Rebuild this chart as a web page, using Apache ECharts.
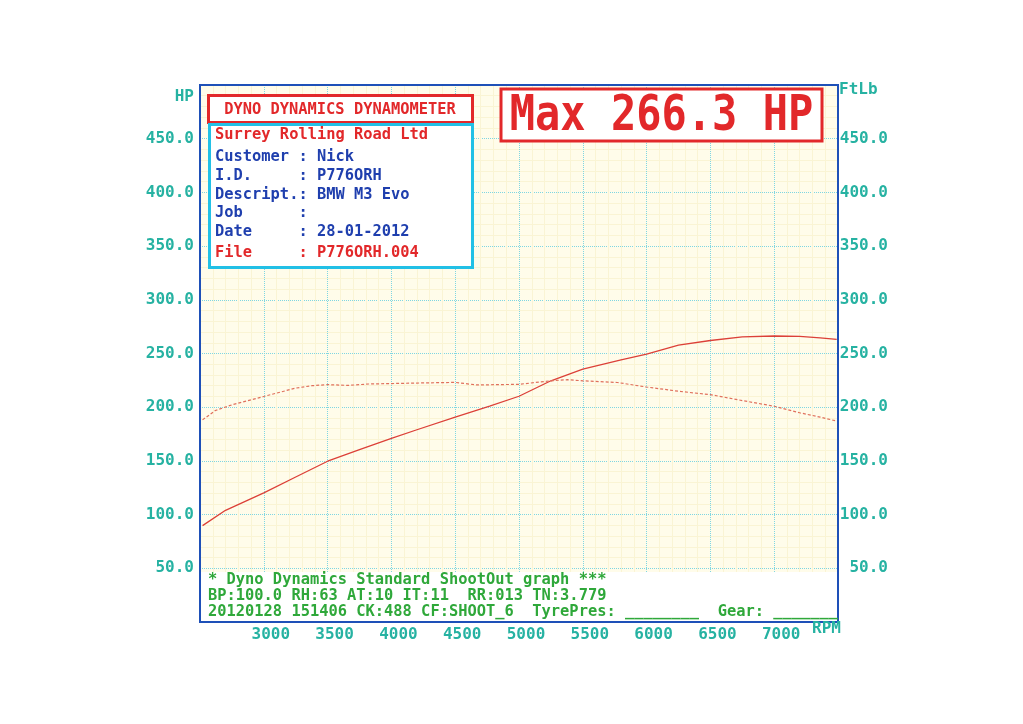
<!DOCTYPE html>
<html><head><meta charset="utf-8">
<script src="https://cdn.jsdelivr.net/npm/echarts@6/dist/echarts.min.js"></script>
<style>html,body{margin:0;padding:0;background:#fff}#c{width:1023px;height:724px}</style>
</head><body><div id="c"></div>
<script>
// ---- data read from the dyno sheet ----
const rpmHP = [2520, 2700, 3000, 3250, 3500, 3750, 4000, 4200, 4500, 4770, 5000, 5250, 5500, 5800, 6000, 6250, 6500, 6750, 7000, 7200, 7360, 7490];
const hpValues = [89.7, 104.0, 120.2, 135.0, 149.7, 160.5, 171.0, 179.0, 190.7, 200.9, 210.2, 224.6, 235.5, 244.0, 249.5, 257.8, 262.1, 265.5, 266.3, 266.0, 264.5, 263.2];
const rpmTq = [2520, 2620, 2750, 3000, 3250, 3375, 3500, 3660, 3820, 4000, 4200, 4500, 4670, 5000, 5250, 5380, 5500, 5770, 6000, 6260, 6500, 6750, 7000, 7200, 7360, 7490];
const tqValues = [188.2, 196.9, 202.2, 210.0, 217.8, 220.0, 221.0, 220.3, 221.6, 222.0, 222.5, 223.1, 220.7, 221.3, 224.6, 225.6, 224.6, 223.0, 218.8, 214.7, 211.7, 206.2, 200.9, 194.8, 190.8, 187.1];
const xTickLabels = ['3000', '3500', '4000', '4500', '5000', '5500', '6000', '6500', '7000'];
const yTickLabels = ['50.0', '100.0', '150.0', '200.0', '250.0', '300.0', '350.0', '400.0', '450.0'];
const maxText = 'Max 266.3 HP';
const headerText = 'DYNO DYNAMICS DYNAMOMETER';
const companyText = 'Surrey Rolling Road Ltd';
const infoLabels = ['Customer', 'I.D.', 'Descript.', 'Job', 'Date', 'File'];
const infoValues = ['Nick', 'P776ORH', 'BMW M3 Evo', '', '28-01-2012', 'P776ORH.004'];
const footerLines = [
  '* Dyno Dynamics Standard ShootOut graph ***',
  'BP:100.0 RH:63 AT:10 IT:11  RR:013 TN:3.779',
  '20120128 151406 CK:488 CF:SHOOT_6  TyrePres: ________  Gear: _______'
];

const MONO = '"DejaVu Sans Mono", "Liberation Mono", monospace';
const TEAL = '#26b2a2';
const RED = '#e2282a';
const BLUE = '#1f3fae';
const GREEN = '#2fa83a';

const chart = echarts.init(document.getElementById('c'), null, {renderer: 'canvas'});

const infoY = [157, 176, 194.5, 213, 232, 253];
const infoGraphics = infoLabels.map((l, i) => ({
  type: 'text', x: 215, y: infoY[i], z: 20,
  style: {
    text: (l.length < 9 ? l.padEnd(9, ' ') : l) + ': ' + infoValues[i],
    font: 'bold 15.4px ' + MONO,
    fill: (l === 'File') ? RED : BLUE,
    textVerticalAlign: 'middle', textAlign: 'left'
  }
}));
const footerY = [580, 596, 612];
const footerGraphics = footerLines.map((t, i) => ({
  type: 'text', x: 208, y: footerY[i], z: 20,
  style: {text: t, font: 'bold 15.4px ' + MONO, fill: GREEN, textVerticalAlign: 'middle', textAlign: 'left'}
}));

const option = {
  backgroundColor: '#ffffff',
  animation: false,
  grid: {left: 200, top: 85, width: 638, height: 537, show: true,
         backgroundColor: '#fffcea', borderWidth: 0},
  xAxis: {
    type: 'value', min: 2500, max: 7500, interval: 500,
    axisLine: {show: false}, axisTick: {show: false},
    axisLabel: {
      color: TEAL, fontFamily: MONO, fontWeight: 'bold', fontSize: 16, margin: 5,
      padding: [0, 0, 0, 14],
      formatter: v => { const s = String(v); return xTickLabels.includes(s) ? s : ''; }
    },
    splitLine: {show: true, lineStyle: {color: '#7fd6e2', type: 'dotted', width: 1}},
    minorTick: {show: false, splitNumber: 5},
    minorSplitLine: {show: true, lineStyle: {color: '#faf4d4', width: 1}}
  },
  yAxis: [
    {
      type: 'value', min: 0, max: 500, interval: 50, position: 'left',
      axisLine: {show: false}, axisTick: {show: false},
      axisLabel: {
        color: TEAL, fontFamily: MONO, fontWeight: 'bold', fontSize: 16, margin: 6,
        formatter: v => { const s = v.toFixed(1); return yTickLabels.includes(s) ? s : ''; }
      },
      splitLine: {show: true, lineStyle: {color: '#7fd6e2', type: 'dotted', width: 1}},
      minorTick: {show: false, splitNumber: 5},
      minorSplitLine: {show: true, lineStyle: {color: '#faf4d4', width: 1}}
    },
    {
      type: 'value', min: 0, max: 500, interval: 50, position: 'right',
      axisLine: {show: false}, axisTick: {show: false},
      axisLabel: {
        color: TEAL, fontFamily: MONO, fontWeight: 'bold', fontSize: 16, margin: 50, align: 'right',
        formatter: v => { const s = v.toFixed(1); return yTickLabels.includes(s) ? s : ''; }
      },
      splitLine: {show: false}
    }
  ],
  series: [
    {
      name: 'HP', type: 'line', yAxisIndex: 0, showSymbol: false, smooth: false,
      data: rpmHP.map((r, i) => [r, hpValues[i]]),
      lineStyle: {color: '#dc4038', width: 1.3}, z: 5
    },
    {
      name: 'FtLb', type: 'line', yAxisIndex: 1, showSymbol: false, smooth: false,
      data: rpmTq.map((r, i) => [r, tqValues[i]]),
      lineStyle: {color: '#e0705c', width: 1.2, type: [3, 2]}, z: 5
    }
  ],
  graphic: [
    // bottom white caption strip inside the plot
    {type: 'rect', shape: {x: 201, y: 572, width: 636, height: 49}, style: {fill: '#ffffff'}, z: 10},
    ...footerGraphics,
    // plot frame
    {type: 'rect', shape: {x: 200, y: 85, width: 638, height: 537}, style: {fill: 'none', stroke: '#1e50b8', lineWidth: 2}, z: 15},
    // header & info box
    {type: 'rect', shape: {x: 208.5, y: 95.5, width: 264, height: 27}, style: {fill: '#ffffff', stroke: RED, lineWidth: 3}, z: 12},
    {type: 'text', x: 340, y: 109.5, z: 20, style: {text: headerText, font: 'bold 15.4px ' + MONO, fill: RED, textAlign: 'center', textVerticalAlign: 'middle'}},
    {type: 'rect', shape: {x: 209.5, y: 124.5, width: 263, height: 143}, style: {fill: '#ffffff', stroke: '#22c0e6', lineWidth: 3}, z: 12},
    {type: 'text', x: 215, y: 135, z: 20, style: {text: companyText, font: 'bold 15.4px ' + MONO, fill: RED, textAlign: 'left', textVerticalAlign: 'middle'}},
    ...infoGraphics,
    // max box
    {type: 'rect', shape: {x: 501, y: 89, width: 321, height: 52}, style: {fill: '#ffffff', stroke: RED, lineWidth: 3}, z: 12},
    {type: 'text', x: 661.5, y: 117, scaleX: 0.84, scaleY: 1.0, z: 20,
     style: {text: maxText, font: 'bold 50px ' + MONO, fill: RED, textAlign: 'center', textVerticalAlign: 'middle'}},
    // axis names
    {type: 'text', x: 194, y: 97, z: 20, style: {text: 'HP', font: 'bold 16px ' + MONO, fill: TEAL, textAlign: 'right', textVerticalAlign: 'middle'}},
    {type: 'text', x: 839, y: 90, z: 20, style: {text: 'FtLb', font: 'bold 16px ' + MONO, fill: TEAL, textAlign: 'left', textVerticalAlign: 'middle'}},
    {type: 'text', x: 841, y: 629, z: 20, style: {text: 'RPM', font: 'bold 16px ' + MONO, fill: TEAL, textAlign: 'right', textVerticalAlign: 'middle'}}
  ]
};
chart.setOption(option);
</script>
</body></html>
